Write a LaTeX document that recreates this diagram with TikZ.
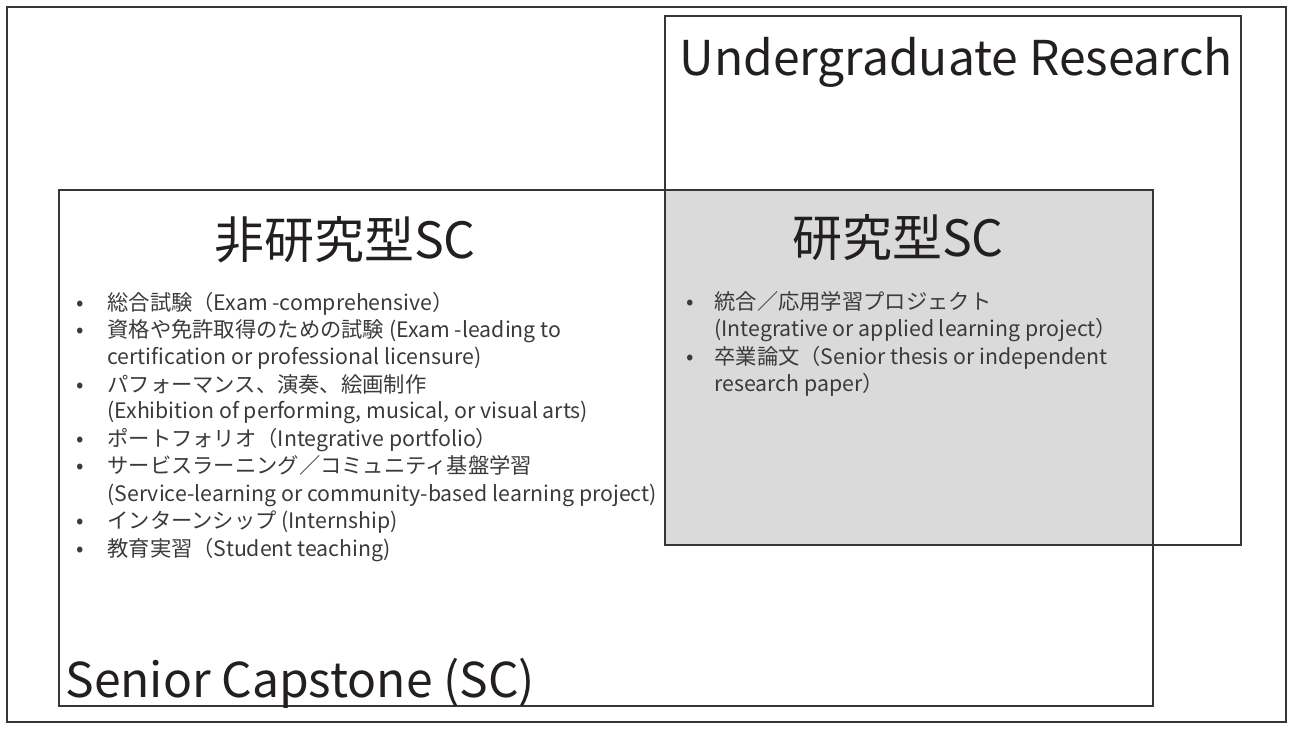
\documentclass[tikz,border=0pt]{standalone}
\usepackage{fontspec}
\setmainfont{Noto Sans CJK JP}
\definecolor{linec}{HTML}{3A3535}
\definecolor{textc}{HTML}{3A3A3A}
\definecolor{titlec}{HTML}{231F20}
\definecolor{fillc}{HTML}{DADADA}
\tikzset{
  boxline/.style={draw=linec, line width=0.75pt},
  bigtitle/.style={font=\fontsize{24}{29}\selectfont, text=titlec, inner sep=0pt, anchor=base west},
  headtitle/.style={font=\fontsize{25}{30}\selectfont, text=titlec, inner sep=0pt},
  itemtext/.style={font=\fontsize{10.65}{13}\selectfont, text=textc, inner sep=0pt, anchor=base west},
  bul/.style={font=\fontsize{11}{13}\selectfont, text=textc, inner sep=0pt, anchor=base}
}
\begin{document}
\begin{tikzpicture}[x=0.5pt,y=-0.5pt]
\useasboundingbox (0,0) rectangle (1292,729);
\fill[fillc] (665,190) rectangle (1153,545);
\draw[draw=linec, line width=1pt] (7,7) rectangle (1286,722);
\draw[boxline] (665,16) rectangle (1241,545);
\draw[boxline] (59,190) rectangle (1153,706);

\node[bigtitle] (ur) at (679,75) {Undergraduate Research};
\node[bigtitle] (sc) at (65,697) {Senior Capstone (SC)};
\node[headtitle] (nrsc) at (345,240) {非研究型SC};
\node[headtitle] (rsc) at (898,238) {研究型SC};

% left list
\node[bul] (lb1) at (80,310) {•};
\node[itemtext] (l1) at (107,310) {総合試験（Exam -comprehensive）};
\node[bul] (lb2) at (80,337) {•};
\node[itemtext] (l2) at (107,337) {資格や免許取得のための試験 (Exam -leading to};
\node[itemtext] (l2b) at (107,364) {certification or professional licensure)};
\node[bul] (lb3) at (80,392) {•};
\node[itemtext] (l3) at (107,392) {パフォーマンス、演奏、絵画制作};
\node[itemtext] (l3b) at (107,418) {(Exhibition of performing, musical, or visual arts)};
\node[bul] (lb4) at (80,446) {•};
\node[itemtext] (l4) at (107,446) {ポートフォリオ（Integrative portfolio）};
\node[bul] (lb5) at (80,473) {•};
\node[itemtext] (l5) at (107,473) {サービスラーニング／コミュニティ基盤学習};
\node[itemtext] (l5b) at (107,501) {(Service-learning or community-based learning project)};
\node[bul] (lb6) at (80,528) {•};
\node[itemtext] (l6) at (107,528) {インターンシップ (Internship)};
\node[bul] (lb7) at (80,556) {•};
\node[itemtext] (l7) at (107,556) {教育実習（Student teaching)};

% right list
\node[bul] (rb1) at (690,309) {•};
\node[itemtext] (r1) at (714,309) {統合／応用学習プロジェクト};
\node[itemtext] (r1b) at (714,336) {(Integrative or applied learning project）};
\node[bul] (rb2) at (690,364) {•};
\node[itemtext] (r2) at (714,364) {卒業論文（Senior thesis or independent};
\node[itemtext] (r2b) at (714,391) {research paper）};
\end{tikzpicture}
\end{document}
